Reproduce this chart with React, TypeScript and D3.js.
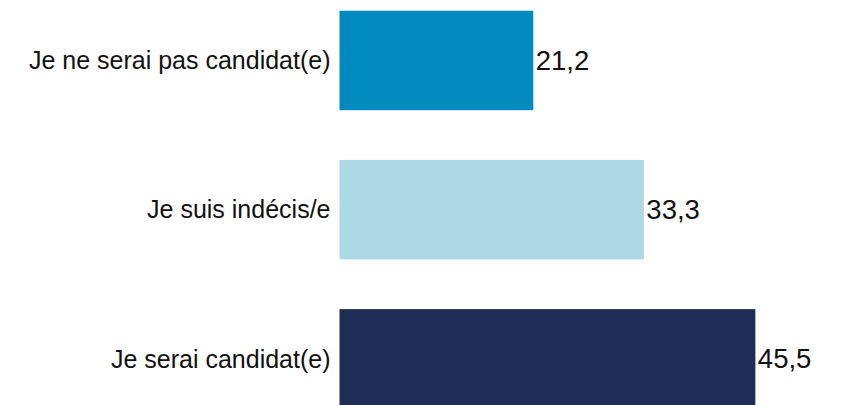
import React from "react";
import * as d3 from "d3";

const categories: string[] = ["Je ne serai pas candidat(e)", "Je suis indécis/e", "Je serai candidat(e)"];
const values: number[] = [21.2, 33.3, 45.5];
const colors: string[] = ["#018abd", "#add8e6", "#1f2d55"];

const W = 841;
const H = 405;

export default function App() {
  const x = d3.scaleLinear().domain([0, 50]).range([339.5, 796.5]);
  const y = d3
    .scaleBand<string>()
    .domain(categories)
    .range([-39, 458.3])
    .paddingInner(1 / 3)
    .paddingOuter(1 / 3);
  const fmt = (v: number) => d3.format(".1f")(v).replace(".", ",");
  return (
    <div style={{ position: "fixed", left: 0, top: 0, width: W, height: H, background: "#fff" }}>
      <svg width={W} height={H} style={{ display: "block" }} fontFamily="'Liberation Sans', Arial, sans-serif">
        {categories.map((c, i) => {
          const y0 = y(c)!;
          const bw = y.bandwidth();
          const cy = y0 + bw / 2;
          return (
            <g key={c}>
              <rect x={x(0)} y={y0} width={x(values[i]) - x(0)} height={bw} fill={colors[i]} />
              <text x={x(0) - 9} y={cy} dy="0.35em" textAnchor="end" fontSize={25} fill="#111">
                {c}
              </text>
              <text x={x(values[i]) + 2.5} y={cy} dy="0.35em" textAnchor="start" fontSize={27.5} fill="#111">
                {fmt(values[i])}
              </text>
            </g>
          );
        })}
      </svg>
    </div>
  );
}
